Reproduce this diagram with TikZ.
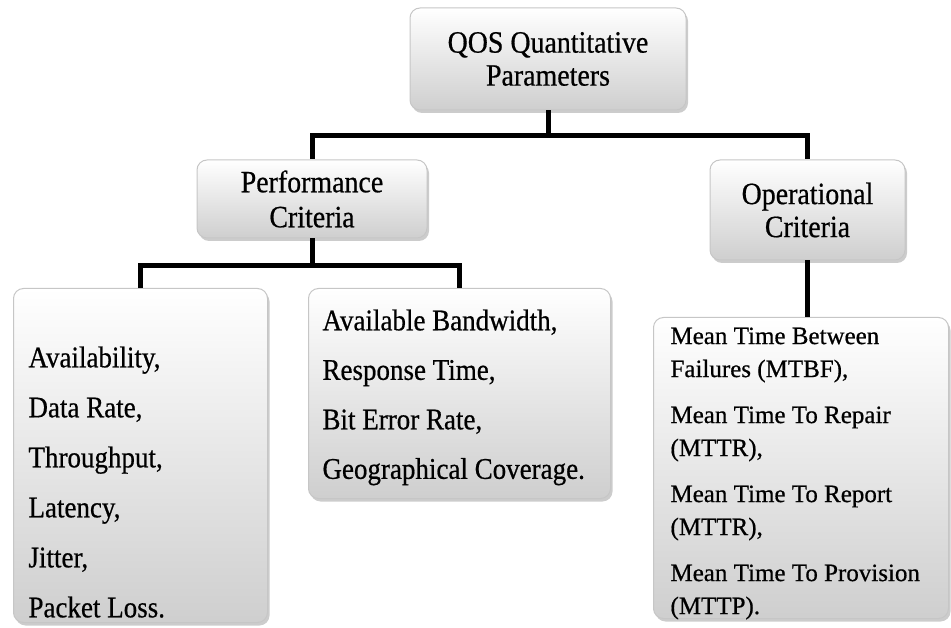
\documentclass[tikz,border=0pt]{standalone}
\usepackage{fontspec}
\setmainfont[FakeStretch=0.9, FakeBold=0.6]{Liberation Serif}
\newfontfamily\opfont[FakeBold=0.6]{Liberation Serif}
\usetikzlibrary{positioning,shadows}

\begin{document}
\begin{tikzpicture}[x = 1pt, y = -1pt,
    box/.style = {draw = gray!45, line width = 1pt, rounded corners = 10pt, top color = white, middle color = gray!6, bottom color = gray!38, drop shadow = {shadow xshift = 2pt, shadow yshift = -3pt, opacity = .4}},
    head/.style = {box, align = center, inner sep = 0pt, font = \fontsize{31}{33}\selectfont},
    list/.style = {box, anchor = north west, inner ysep = 0pt, font = \fontsize{30}{50}\selectfont},
    link/.style = {line width = 5pt}]
    \useasboundingbox (0,0) rectangle (951,628);
    \node[head, minimum width = 276pt, minimum height = 102pt] (qos) at (548,59) {QOS Quantitative\\Parameters};
    %%%%%%%%%%
    \node[head, minimum width = 230pt, minimum height = 78pt, font = \fontsize{31}{35}\selectfont] (perf) at (312,199) {Performance\\Criteria};
    \node[head, minimum width = 195pt, minimum height = 100pt] (oper) at (807.5,210) {Operational\\Criteria};
    %%%%%%%%%%
    \node[list, inner xsep = 15pt] (perfA) at (13,288) {\parbox[t][334pt][t]{224pt}{\vspace*{58pt}Availability,\\Data Rate,\\Throughput,\\Latency,\\Jitter,\\Packet Loss.}};
    \node[list, inner xsep = 14pt, font = \fontsize{30}{49.5}\selectfont] (perfB) at (308,288) {\parbox[t][210pt][t]{274pt}{\vspace*{21pt}Available Bandwidth,\\Response Time,\\Bit Error Rate,\\Geographical Coverage.}};
    \node[list, inner xsep = 17pt, font = \opfont\fontsize{25}{33}\selectfont] (operlist) at (653,317) {\parbox[t][301pt][t]{261pt}{\vspace*{10pt}Mean Time Between\\Failures (MTBF),\\[13pt]Mean Time To Repair\\(MTTR),\\[13pt]Mean Time To Report\\(MTTR),\\[13pt]Mean Time To Provision\\(MTTP).}};
    %%%%%%%%%%
    \draw[link] (qos.south) -- ++(0,25) -| (perf.north);
    \draw[link] (qos.south) -- ++(0,25) -| (oper.north);
    \draw[link] (perf.south) -- ++(0,27) -| (perfA.north);
    \draw[link] (perf.south) -- ++(0,27) -| (perfB.north);
    \draw[link] (oper.south) -- (oper.south |- operlist.north);
\end{tikzpicture}
\end{document}
